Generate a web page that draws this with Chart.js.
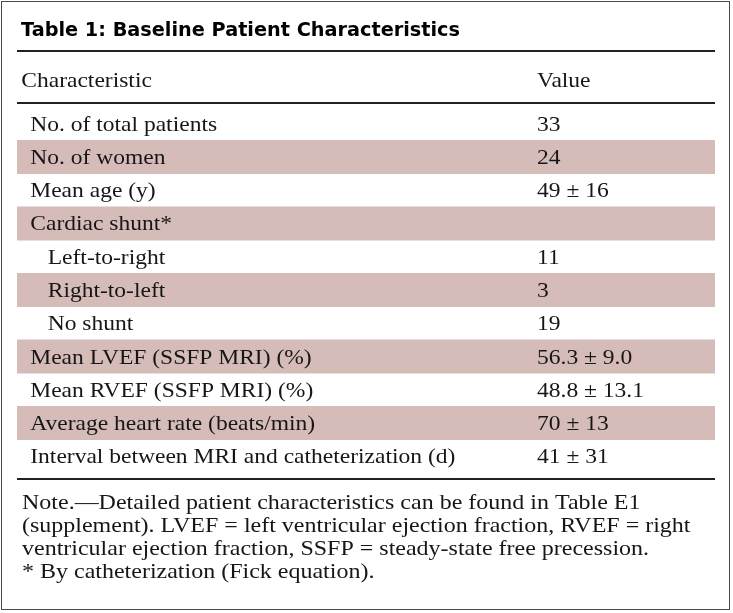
<!DOCTYPE html>
<html>
<head>
<meta charset="utf-8">
<script src="https://cdn.jsdelivr.net/npm/chart.js@4.4.1/dist/chart.umd.min.js"></script>
<style>
  html, body { margin: 0; background: #fff; }
  canvas { display: block; }
</style>
</head>
<body>
<canvas id="table" width="733" height="613"></canvas>
<script>
// ДАННЫЕ ТАБЛИЦЫ
const TITLE = "Table 1: Baseline Patient Characteristics"
const HEADERS = ["Characteristic", "Value"]

const ROWS = [
  "No. of total patients",
  "No. of women",
  "Mean age (y)",
  "Cardiac shunt*",
  "Left-to-right",
  "Right-to-left",
  "No shunt",
  "Mean LVEF (SSFP MRI) (%)",
  "Mean RVEF (SSFP MRI) (%)",
  "Average heart rate (beats/min)",
  "Interval between MRI and catheterization (d)",
]

const LEVELS = [0, 0, 0, 0, 1, 1, 1, 0, 0, 0, 0]

const VALUES = [
  "33",
  "24",
  "49 ± 16",
  "",
  "11",
  "3",
  "19",
  "56.3 ± 9.0",
  "48.8 ± 13.1",
  "70 ± 13",
  "41 ± 31",
]

const SHADED = [false, true, false, true, false, true, false, true, false, true, false]

const NOTE = [
  "Note.—Detailed patient characteristics can be found in Table E1",
  "(supplement). LVEF = left ventricular ejection fraction, RVEF = right",
  "ventricular ejection fraction, SSFP = steady-state free precession.",
  "* By catheterization (Fick equation).",
]


// стили
const SERIF = "21px 'Liberation Serif', serif"
const STRETCH = 1.12
const TEXT = "#161616"
const RULE = "#222"
const BAND = "#d6bcb9"

// колонки в единицах оси x (0..100)
const COL_LABEL = 1.9
const COL_INDENT = 4.4
const COL_VALUE = 74.5


// текст с растяжкой
function text(ctx, str, x, y, sx) {
  ctx.save()
  ctx.translate(x, y)
  ctx.scale(sx || STRETCH, 1)
  ctx.fillText(str, 0, 0)
  ctx.restore()
}


// горизонтальная линия
function rule(ctx, area, y) {
  ctx.fillStyle = RULE
  ctx.fillRect(area.left, y - 1, area.right - area.left, 2)
}


// рисуем всё, кроме полос
const tablePlugin = {
  id: "tableText",
  afterDraw(chart) {
    const ctx = chart.ctx
    const area = chart.chartArea
    const x = chart.scales.x
    const y = chart.scales.y

    ctx.save()

    // рамка
    ctx.strokeStyle = "#4a4a4a"
    ctx.lineWidth = 1
    ctx.strokeRect(1.5, 1.5, 728, 608)

    // заголовок, подгоняем ширину
    ctx.fillStyle = "#000"
    ctx.font = "bold 20px 'DejaVu Sans', sans-serif"
    ctx.textBaseline = "alphabetic"
    const fit = 439 / ctx.measureText(TITLE).width
    text(ctx, TITLE, area.left + 4, 36, fit)

    // линии
    rule(ctx, area, 51)
    rule(ctx, area, 103)
    rule(ctx, area, 479)

    // шапка
    ctx.fillStyle = TEXT
    ctx.font = SERIF
    text(ctx, HEADERS[0], x.getPixelForValue(COL_LABEL) - 9, 87)
    text(ctx, HEADERS[1], x.getPixelForValue(COL_VALUE), 87)

    // строки
    ROWS.forEach(function (row, i) {
      const base = y.getPixelForValue(i) + 7
      const col = LEVELS[i] ? COL_INDENT : COL_LABEL
      text(ctx, row, x.getPixelForValue(col), base)
      text(ctx, VALUES[i], x.getPixelForValue(COL_VALUE), base)
    })

    // примечание
    NOTE.forEach(function (line, i) {
      text(ctx, line, area.left + 5, 509 + i * 23, STRETCH * 1.02)
    })

    ctx.restore()
  },
}


// создаём таблицу
new Chart(document.getElementById("table"), {
  type: "bar",
  data: {
    labels: ROWS,
    datasets: [{
      data: SHADED.map(function (s) { return s ? [0, 100] : null }),
      backgroundColor: BAND,
      borderWidth: 0,
      barPercentage: 1,
      categoryPercentage: 1,
    }],
  },
  options: {
    indexAxis: "y",
    responsive: false,
    animation: false,
    events: [],
    layout: {
      padding: { left: 17, right: 18, top: 107, bottom: 140 },
    },
    scales: {
      x: { type: "linear", min: 0, max: 100, display: false },
      y: { type: "category", display: false },
    },
    plugins: {
      legend: { display: false },
      tooltip: { enabled: false },
    },
  },
  plugins: [tablePlugin],
})
</script>
</body>
</html>
